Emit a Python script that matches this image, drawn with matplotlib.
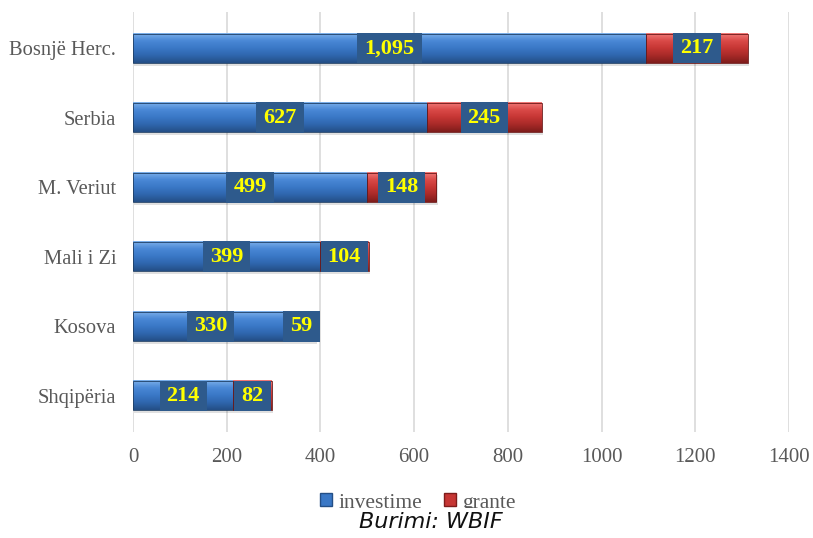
import numpy as np
import matplotlib.pyplot as plt
from matplotlib.patches import Rectangle
from matplotlib.colors import LinearSegmentedColormap

vendet = ["Bosnjë Herc.", "Serbia", "M. Veriut", "Mali i Zi", "Kosova", "Shqipëria"]
investime = [1095, 627, 499, 399, 330, 214]
grante = [217, 245, 148, 104, 59, 82]
xticks = [0, 200, 400, 600, 800, 1000, 1200, 1400]

serif = "Liberation Serif"
ngjyra_teksti = "#595959"

# gradient per shiritat (efekt i pjerret)
cm_blu = LinearSegmentedColormap.from_list("blu", ["#7DB0EA", "#4A88D6", "#3A78C6", "#2F66AE", "#244F86"])
cm_kuq = LinearSegmentedColormap.from_list("kuq", ["#F07A78", "#DA4A48", "#C63634", "#A82A28", "#7E1C1B"])

fig = plt.figure(figsize=(8.13, 5.38), dpi=100)
ax = fig.add_axes([133 / 813, 1 - 432 / 538, (789 - 133) / 813, (432 - 12) / 538])

y = np.arange(len(vendet))[::-1]
h = 0.42
grad = np.linspace(0, 1, 64).reshape(-1, 1)


def shirit(x0, w, yc, cmap):
    ax.add_patch(Rectangle((x0 + 3, yc - h / 2 - 0.04), w, h, color="#000000", alpha=0.12, lw=0, zorder=2))
    ax.imshow(grad, cmap=cmap, aspect="auto", extent=(x0, x0 + w, yc - h / 2, yc + h / 2),
              origin="upper", zorder=3, interpolation="bilinear")
    ax.add_patch(Rectangle((x0, yc - h / 2), w, h, fill=False, ec="#1F3F66" if cmap is cm_blu else "#6E1818",
                           lw=0.6, zorder=4))


etiketat = []


def etikete(xc, yc, tekst):
    t = ax.text(xc, yc, tekst, ha="center", va="center", fontsize=16, fontweight="bold",
                color="#FFFF00", family=serif, zorder=6)
    etiketat.append((t, yc))


for yi, inv, gr in zip(y, investime, grante):
    shirit(0, inv, yi, cm_blu)
    shirit(inv, gr, yi, cm_kuq)
    etikete(inv / 2, yi, f"{inv:,}")
    etikete(inv + gr / 2, yi, f"{gr:,}")

ax.set_xlim(0, 1400)
ax.set_ylim(-0.52, 5.52)
ax.set_xticks(xticks)
ax.set_xticklabels([str(v) for v in xticks], family=serif, fontsize=15, color=ngjyra_teksti)
ax.set_yticks(y)
ax.set_yticklabels(vendet, family=serif, fontsize=14.8, color=ngjyra_teksti)
ax.tick_params(length=0)
ax.tick_params(axis="x", pad=11.5)
ax.tick_params(axis="y", pad=12)
ax.grid(axis="x", color="#D9D9D9", lw=1.2, zorder=0)
ax.set_axisbelow(True)
for s in ax.spines.values():
    s.set_visible(False)

# kutite e etiketave: gjeresia sipas tekstit + 7 px anash, lartesia sa shiriti
fig.canvas.draw()
r = fig.canvas.get_renderer()
inv_tr = ax.transData.inverted()
for t, yc in etiketat:
    bb = t.get_window_extent(r)
    x0 = inv_tr.transform((bb.x0 - 7, 0))[0]
    x1 = inv_tr.transform((bb.x1 + 7, 0))[0]
    ax.add_patch(Rectangle((x0, yc - h / 2 - 0.01), x1 - x0, h + 0.02, fc="#2E5A8C", ec="none", zorder=5))

# legjenda (pjesa e poshtme mbulohet nga burimi)
h_inv = Rectangle((0, 0), 1, 1, fc="#3A78C6", ec="#244F86")
h_gr = Rectangle((0, 0), 1, 1, fc="#C63634", ec="#7E1C1B")
leg = fig.legend([h_inv, h_gr], ["investime", "grante"], loc="center", bbox_to_anchor=(418 / 813, 1 - 503 / 538),
                 ncol=2, frameon=False, prop=dict(family=serif, size=15.5), labelcolor=ngjyra_teksti,
                 handlelength=0.55, handleheight=0.55, handletextpad=0.3, columnspacing=1.0)
leg.set_zorder(4)

fig.patches.append(Rectangle((0, 0), 1, 1 - 508 / 538, transform=fig.transFigure, fc="white", ec="none",
                             zorder=8))
fig.text(431 / 813, 1 - 522 / 538, "Burimi: WBIF", ha="center", va="center", fontsize=16,
         style="italic", family="DejaVu Sans", color="#111111", zorder=9)

fig.savefig("out.png", dpi=100)
